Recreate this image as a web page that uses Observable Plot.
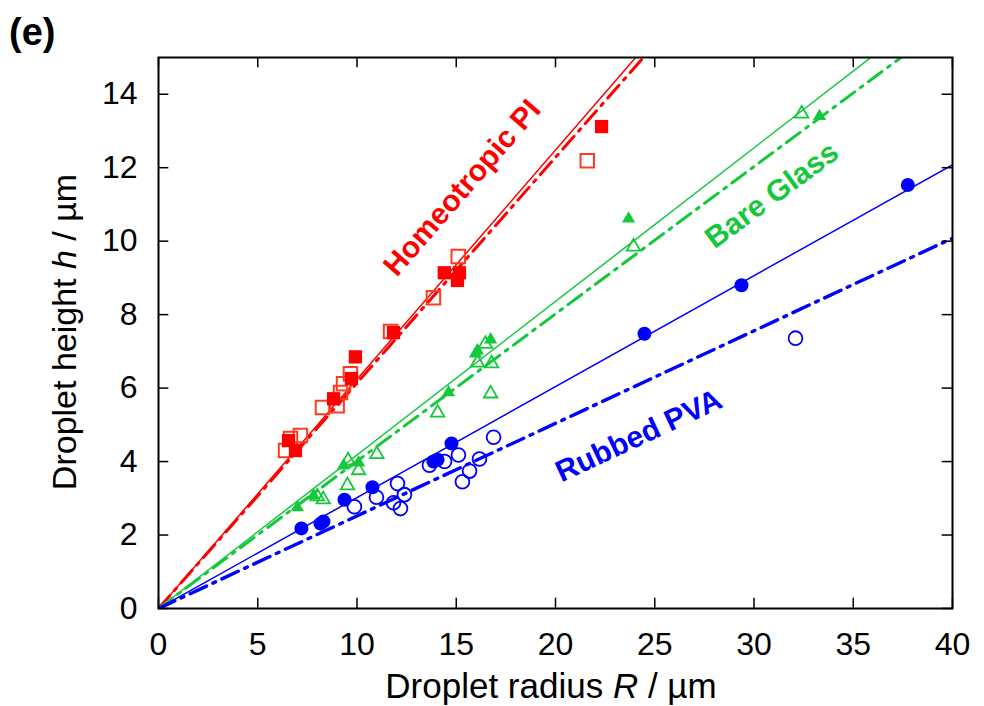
<!DOCTYPE html>
<html>
<head>
<meta charset="utf-8">
<script src="https://cdn.jsdelivr.net/npm/d3@7"></script>
<script src="https://cdn.jsdelivr.net/npm/@observablehq/plot@0.6"></script>
<style>
  html, body { margin: 0; padding: 0; background: #fff; }
  svg { display: block; }
</style>
</head>
<body>
<script>
// ---- Data ----
const xTicks = [0, 5, 10, 15, 20, 25, 30, 35, 40];
const yTicks = [0, 2, 4, 6, 8, 10, 12, 14];

// Homeotropic PI
const piFilledR = [6.55, 6.9, 8.82, 9.72, 9.92, 11.84, 14.4, 15.16, 15.06, 22.32];
const piFilledH = [4.57, 4.3, 5.71, 6.26, 6.85, 7.51, 9.14, 9.14, 8.93, 13.12];
const piOpenR = [6.4, 6.65, 7.15, 8.26, 9.0, 9.17, 9.32, 9.67, 11.69, 13.85, 15.1, 21.6];
const piOpenH = [4.3, 4.63, 4.71, 5.47, 5.52, 5.88, 6.12, 6.39, 7.54, 8.46, 9.58, 12.19];

// Bare Glass
const bgFilledR = [7.0, 7.81, 9.32, 10.08, 14.61, 15.97, 16.07, 16.73, 23.68, 33.3];
const bgFilledH = [2.75, 3.07, 3.89, 3.97, 5.88, 6.94, 7.02, 7.32, 10.61, 13.4];
const bgOpenR = [8.0, 8.3, 9.52, 9.55, 10.08, 11.0, 14.06, 16.07, 16.47, 16.78, 16.73, 23.93, 32.4];
const bgOpenH = [3.05, 2.97, 3.35, 4.03, 3.76, 4.2, 5.33, 6.69, 7.2, 6.67, 5.85, 9.85, 13.47];

// Rubbed PVA
const pvaFilledR = [7.2, 8.16, 8.31, 9.37, 10.78, 13.85, 14.06, 14.76, 24.48, 29.37, 37.75];
const pvaFilledH = [2.18, 2.31, 2.37, 2.96, 3.3, 4.0, 4.05, 4.49, 7.48, 8.8, 11.53];
const pvaOpenR = [9.87, 10.98, 11.84, 12.04, 12.19, 12.39, 13.65, 14.41, 15.11, 15.31, 15.67, 16.17, 16.88, 32.09];
const pvaOpenH = [2.77, 3.03, 2.88, 3.4, 2.72, 3.1, 3.9, 4.0, 4.18, 3.45, 3.74, 4.07, 4.66, 7.36];

// Linear fits h = slope * R (through origin)
const fitNames  = ["PI solid", "PI dashdot", "BG solid", "BG dashdot", "PVA solid", "PVA dashdot"];
const fitSlopes = [0.624, 0.614, 0.418, 0.401, 0.302, 0.252];

// Annotations
const labelText = ["Homeotropic PI", "Bare Glass", "Rubbed PVA"];
const labelR = [15.3, 30.9, 24.2];
const labelH = [11.45, 11.25, 4.7];
const labelAngle = [-49, -36.5, -25];

// ---- Styling ----
const RED = "#ff0000", RED_OPEN = "#ff3b1f", GREEN = "#14c83c", BLUE = "#0000ff";
const fitColor = [RED, RED, GREEN, GREEN, BLUE, BLUE];
const fitDash = [null, "17,7,3,7", null, "17,7,3,7", null, "18,7,3,7"];
const fitWidth = [1.5, 3, 1.5, 3, 1.5, 3.4];
const labelColor = [RED, GREEN, BLUE];

const pts = (R, H) => R.map((r, i) => ({R: r, h: H[i]}));

const fitMarks = fitNames.map((n, i) =>
  Plot.line([{R: 0, h: 0}, {R: 40, h: 40 * fitSlopes[i]}], {
    x: "R", y: "h", stroke: fitColor[i], strokeWidth: fitWidth[i],
    strokeDasharray: fitDash[i] || undefined, clip: true
  })
);

const chart = Plot.plot({
  width: 984,
  height: 706,
  marginLeft: 158,
  marginRight: 32,
  marginTop: 57,
  marginBottom: 98,
  style: {fontFamily: "'Liberation Sans', Arial, Helvetica, sans-serif", fontSize: "32px", color: "black", background: "white"},
  x: {domain: [0, 40]},
  y: {domain: [0, 15]},
  marks: [
    ...fitMarks,
    Plot.dot(pts(piOpenR, piOpenH), {x: "R", y: "h", symbol: "square", r: 7.6, stroke: RED_OPEN, strokeWidth: 2, fill: "none"}),
    Plot.dot(pts(piFilledR, piFilledH), {x: "R", y: "h", symbol: "square", r: 7.5, fill: RED, stroke: "none"}),
    Plot.dot(pts(bgOpenR, bgOpenH), {x: "R", y: "h", symbol: "triangle", r: 5, stroke: GREEN, strokeWidth: 1.8, fill: "none"}),
    Plot.dot(pts(bgFilledR, bgFilledH), {x: "R", y: "h", symbol: "triangle", r: 4.9, fill: GREEN, stroke: "none"}),
    Plot.dot(pts(pvaOpenR, pvaOpenH), {x: "R", y: "h", symbol: "circle", r: 6.9, stroke: BLUE, strokeWidth: 1.8, fill: "none"}),
    Plot.dot(pts(pvaFilledR, pvaFilledH), {x: "R", y: "h", symbol: "circle", r: 7, fill: BLUE, stroke: "none"}),
    Plot.text(labelText.map((t, i) => ({t, R: labelR[i], h: labelH[i], a: labelAngle[i], c: labelColor[i]})), {
      x: "R", y: "h", text: "t", rotate: (d) => d.a, fill: (d) => d.c,
      fontSize: 30, fontWeight: "bold", textAnchor: "middle", lineAnchor: "middle"
    }),
    // inward ticks on all four sides
    Plot.ruleX(xTicks, {x: (d) => d, y1: 0, y2: 0.28, stroke: "black", strokeWidth: 1.5}),
    Plot.ruleX(xTicks, {x: (d) => d, y1: 15, y2: 14.72, stroke: "black", strokeWidth: 1.5}),
    Plot.ruleY(yTicks, {y: (d) => d, x1: 0, x2: 0.52, stroke: "black", strokeWidth: 1.5}),
    Plot.ruleY(yTicks, {y: (d) => d, x1: 40, x2: 39.48, stroke: "black", strokeWidth: 1.5}),
    Plot.axisX({ticks: xTicks, tickSize: 0, tickPadding: 24, label: null, fontSize: 32}),
    Plot.axisY({ticks: yTicks, tickSize: 0, tickPadding: 21, label: null, fontSize: 32}),
    Plot.frame({stroke: "black", strokeWidth: 2})
  ]
});

document.body.appendChild(chart);

// Axis titles with italic symbols, and the panel tag
const svg = d3.select(chart);
const font = "'Liberation Sans', Arial, Helvetica, sans-serif";
const xl = svg.append("text")
  .attr("x", 551).attr("y", 698)
  .attr("text-anchor", "middle")
  .attr("font-family", font).attr("font-size", 35).attr("fill", "black");
xl.append("tspan").text("Droplet radius ");
xl.append("tspan").attr("font-style", "italic").text("R");
xl.append("tspan").text(" / µm");

const yl = svg.append("text")
  .attr("transform", "translate(76,332) rotate(-90)")
  .attr("text-anchor", "middle")
  .attr("font-family", font).attr("font-size", 34).attr("fill", "black");
yl.append("tspan").text("Droplet height ");
yl.append("tspan").attr("font-style", "italic").text("h");
yl.append("tspan").text(" / µm");

svg.append("text")
  .attr("x", 9).attr("y", 45)
  .attr("text-anchor", "start")
  .attr("font-family", font).attr("font-size", 38).attr("font-weight", "bold")
  .attr("fill", "black").text("(e)");
</script>
</body>
</html>
